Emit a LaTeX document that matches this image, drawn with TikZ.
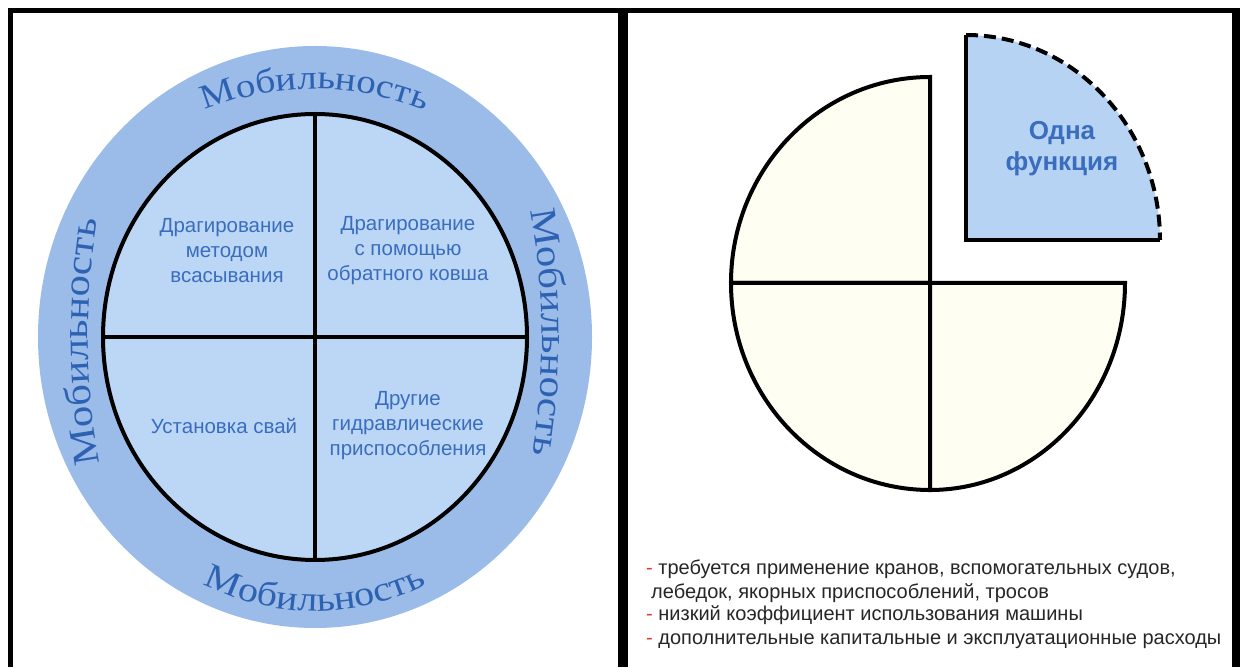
\documentclass[tikz,border=0pt]{standalone}
\usepackage{fontspec}
\setmainfont{Liberation Sans}
\newfontfamily\mobfont[FakeStretch=1.15]{Liberation Serif}
\usetikzlibrary{decorations.text}
\definecolor{ringblue}{HTML}{9BBBE8}
\definecolor{innerblue}{HTML}{BCD7F5}
\definecolor{labelblue}{HTML}{3A6DBE}
\definecolor{mobblue}{HTML}{2D62B2}
\definecolor{cream}{HTML}{FFFEF2}
\definecolor{onefill}{HTML}{B7D3F4}
\definecolor{dashred}{HTML}{E03A2C}
\begin{document}
\begin{tikzpicture}[x=1pt,y=1pt,
  lbl/.style={font=\fontsize{20.5}{25}\selectfont, text=labelblue, align=center, inner sep=0pt},
  note/.style={font=\fontsize{20}{23}\selectfont, text=black!85, anchor=base west, inner sep=0pt},
  outl/.style={line width=4pt, line join=miter},
  cross/.style={line width=3.5pt},
  mob/.style={decorate, decoration={text along path, text align=center,
     text={|\mobfont\fontsize{#1}{#1}\selectfont\color{mobblue}|Мобильность}}},
]
\useasboundingbox (0,0) rectangle (1240,667);
\fill[white] (0,0) rectangle (1240,667);
% frame
\fill[black] (8,654) rectangle (1240,659);
\fill[black] (8,0) rectangle (13,659);
\fill[black] (618,0) rectangle (628,659);
\fill[black] (1232,0) rectangle (1240,659);

% left circle
\coordinate (C) at (315,330);
\fill[ringblue] (C) ellipse [x radius=277, y radius=291];
\fill[innerblue] (C) ellipse [x radius=212, y radius=223];
\coordinate (ct) at (315,553);
\coordinate (cb) at (315,107);
\coordinate (cl) at (103,330);
\coordinate (cr) at (527,330);
\draw[cross] (ct) -- (cb);
\draw[cross] (cl) -- (cr);
\draw[line width=4pt] (C) ellipse [x radius=212, y radius=223];

\path[mob=34] (C) ++(160:270 and 248) arc[start angle=160, end angle=20, x radius=270, y radius=248];
\path[mob=37] (C) ++(241:227 and 400) arc[start angle=241, end angle=121, x radius=227, y radius=400];
\path[mob=37] (C) ++(61:227 and 400) arc[start angle=61, end angle=-59, x radius=227, y radius=400];
\path[mob=35] (C) ++(210:260 and 274) arc[start angle=210, end angle=330, x radius=260, y radius=274];

\node[lbl] (q1) at (227,416) {Драгирование\\методом\\всасывания};
\node[lbl] (q2) at (408,416) {Драгирование\\с помощью\\обратного ковша};
\node[lbl] (q3) at (224,241) {Установка свай};
\node[lbl] (q4) at (408,241) {Другие\\гидравлические\\приспособления};

% right pie
\coordinate (P) at (930,384);
\filldraw[fill=cream, outl] (P) -- (930,590) arc[start angle=90, end angle=180, x radius=199, y radius=206] -- cycle;
\filldraw[fill=cream, outl] (P) -- (731,384) arc[start angle=180, end angle=270, x radius=199, y radius=207] -- cycle;
\filldraw[fill=cream, outl] (P) -- (930,177) arc[start angle=270, end angle=360, x radius=195, y radius=207] -- cycle;

\coordinate (Q) at (966,427);
\coordinate (Qt) at (966,632);
\coordinate (Qr) at (1160,427);
\fill[onefill] (Q) -- (Qt) arc[start angle=90, end angle=0, x radius=194, y radius=205] -- cycle;
\draw[outl] (Qr) -- (Q) -- (Qt);
\draw[line width=4pt, dash pattern=on 12pt off 6pt] (Qt) arc[start angle=90, end angle=0, x radius=194, y radius=205];
\node[font=\bfseries\fontsize{26}{31}\selectfont, text=labelblue, align=center, inner sep=0pt] (one) at (1062,518) {Одна\\функция};

\node[note] (l1) at (646,92) {\textcolor{dashred}{-} требуется применение кранов, вспомогательных судов,};
\node[note] (l2) at (651,68) {лебедок, якорных приспособлений, тросов};
\node[note] (l3) at (646,46) {\textcolor{dashred}{-} низкий коэффициент использования машины};
\node[note] (l4) at (646,23) {\textcolor{dashred}{-} дополнительные капитальные и эксплуатационные расходы};
\end{tikzpicture}
\end{document}
